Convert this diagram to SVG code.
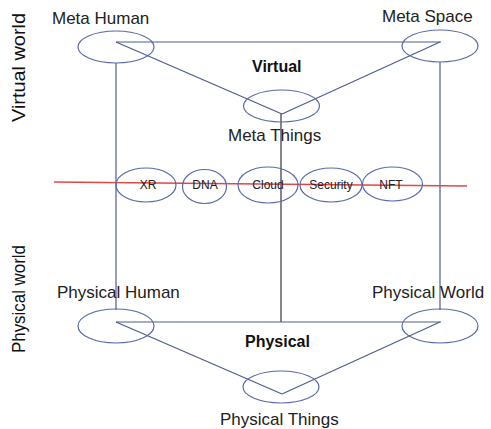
<svg xmlns="http://www.w3.org/2000/svg" width="491" height="429" viewBox="0 0 491 429">
<style>
.n{fill:none;stroke:#5a6aa8;stroke-width:1.2}
.c{fill:none;stroke:#4e5c8e;stroke-width:1.2}
.t{font-family:"Liberation Sans",Arial,sans-serif;font-size:17px;fill:#222}
.v{font-family:"Liberation Sans",Arial,sans-serif;font-size:18px;fill:#111}
.b{font-family:"Liberation Sans",Arial,sans-serif;font-size:16px;font-weight:bold;fill:#111}
.s{font-family:"Liberation Sans",Arial,sans-serif;font-size:12px;fill:#222;text-anchor:middle}
</style>
<rect width="491" height="429" fill="#fff"/>
<g id="connectors">
<line class="c" x1="116" y1="42" x2="441" y2="42"/>
<line class="c" x1="116" y1="42" x2="282" y2="114"/>
<line class="c" x1="282" y1="114" x2="440" y2="42"/>
<line class="c" x1="116" y1="63" x2="116" y2="310"/>
<line class="c" x1="440" y1="62" x2="440" y2="310"/>
<line x1="281" y1="114" x2="281" y2="322" stroke="#444" stroke-width="1.3"/>
<line class="c" x1="116" y1="322" x2="441" y2="322"/>
<line class="c" x1="116" y1="322" x2="282" y2="394"/>
<line class="c" x1="282" y1="394" x2="440" y2="322"/>
<line x1="54" y1="182" x2="467" y2="186" stroke="#e04848" stroke-width="1.3"/>
</g>
<g id="meta-human"><ellipse class="n" cx="116" cy="47" rx="38" ry="16"/><text class="t" x="52" y="24">Meta Human</text></g>
<g id="meta-space"><ellipse class="n" cx="440" cy="46" rx="38" ry="16"/><text class="t" x="382" y="22">Meta Space</text></g>
<g id="meta-things"><ellipse class="n" cx="281.5" cy="106" rx="38" ry="16"/><text class="t" x="228" y="141">Meta Things</text></g>
<g id="virtual"><text class="b" x="252" y="72">Virtual</text></g>
<g id="virtual-world"><text class="v" transform="translate(25,122) rotate(-90)" textLength="109" lengthAdjust="spacingAndGlyphs">Virtual world</text></g>
<g id="xr"><ellipse class="n" cx="146" cy="185" rx="30" ry="17"/><text class="s" x="148" y="189">XR</text></g>
<g id="dna"><ellipse class="n" cx="204.5" cy="186.5" rx="22" ry="17"/><text class="s" x="205" y="189">DNA</text></g>
<g id="cloud"><ellipse class="n" cx="268" cy="185" rx="30" ry="18"/><text class="s" x="268" y="189">Cloud</text></g>
<g id="security"><ellipse class="n" cx="331" cy="185" rx="31" ry="17"/><text class="s" x="331" y="189">Security</text></g>
<g id="nft"><ellipse class="n" cx="392.5" cy="184" rx="30" ry="17"/><text class="s" x="391" y="189">NFT</text></g>
<g id="physical-world-label"><text class="v" transform="translate(25,353) rotate(-90)" textLength="108" lengthAdjust="spacingAndGlyphs">Physical world</text></g>
<g id="physical-human"><ellipse class="n" cx="116" cy="326" rx="38" ry="17"/><text class="t" x="57" y="298">Physical Human</text></g>
<g id="physical-world"><ellipse class="n" cx="440" cy="326" rx="38" ry="17"/><text class="t" x="372" y="298">Physical World</text></g>
<g id="physical-things"><ellipse class="n" cx="281" cy="387" rx="38" ry="16"/><text class="t" x="220" y="425">Physical Things</text></g>
<g id="physical"><text class="b" x="245" y="347">Physical</text></g>
</svg>
